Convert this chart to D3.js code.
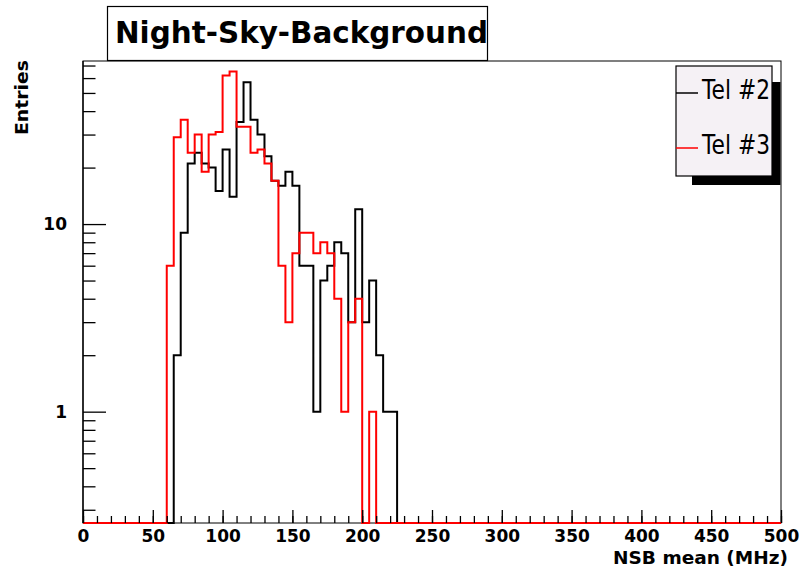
<!DOCTYPE html>
<html>
<head>
<meta charset="utf-8">
<script src="https://cdn.jsdelivr.net/npm/d3@7"></script>
<style>
  body { margin: 0; background: #ffffff; }
  svg text { font-family: "DejaVu Sans", "Liberation Sans", sans-serif; }
</style>
</head>
<body>
<svg id="chart" width="801" height="572"></svg>
<script>
// Histogram bins: lower edge of each 5 MHz bin (MHz)
const binLow = [60, 65, 70, 75, 80, 85, 90, 95, 100, 105,
                110, 115, 120, 125, 130, 135, 140, 145, 150, 155,
                160, 165, 170, 175, 180, 185, 190, 195, 200, 205,
                210, 215, 220];
const binWidth = 5;

// Entries per bin for each telescope
const tel2Counts = [0, 2, 9, 21, 24, 21, 20, 15, 25, 14,
                    35, 57, 36, 30, 23, 17, 16, 19, 16, 6,
                    6, 1, 5, 6, 8, 7, 3, 12, 3, 5,
                    2, 1, 1];
const tel3Counts = [6, 29, 36, 24, 30, 19, 30, 31, 62, 65,
                    33, 33, 24, 25, 21, 17, 6, 3, 7, 9,
                    9, 7, 8, 7, 4, 1, 3, 4, 0, 1,
                    0, 0, 0];

const seriesNames = ["Tel #2", "Tel #3"];
const seriesColors = ["#000000", "#ff0000"];

const xDomain = [0, 500];
const yDomain = [0.255, 74];
const xMajorTicks = [0, 50, 100, 150, 200, 250, 300, 350, 400, 450, 500];
const yMajorTicks = [1, 10];
const yMinorTicks = [0.3, 0.4, 0.5, 0.6, 0.7, 0.8, 0.9,
                     2, 3, 4, 5, 6, 7, 8, 9,
                     20, 30, 40, 50, 60, 70];

const titleText = "Night-Sky-Background";
const xTitle = "NSB mean (MHz)";
const yTitle = "Entries";

// ---- layout ----
const frame = { left: 83, right: 781, top: 61, bottom: 523 };
const svg = d3.select("#chart");

const x = d3.scaleLinear().domain(xDomain).range([frame.left, frame.right]);
const y = d3.scaleLog().domain(yDomain).range([frame.bottom, frame.top]);

// Plot frame
svg.append("rect")
  .attr("x", frame.left).attr("y", frame.top)
  .attr("width", frame.right - frame.left)
  .attr("height", frame.bottom - frame.top)
  .attr("fill", "#ffffff").attr("stroke", "#000").attr("stroke-width", 1);

// Step outline of a histogram over the full axis range
function histPoints(counts) {
  const pts = [[xDomain[0], 0]];
  binLow.forEach((b, i) => pts.push([b, counts[i]]));
  pts.push([binLow[binLow.length - 1] + binWidth, 0]);
  pts.push([xDomain[1], 0]);
  return pts;
}
const stepLine = d3.line()
  .x(d => x(d[0]))
  .y(d => y(Math.max(d[1], yDomain[0])))
  .curve(d3.curveStepAfter);

[tel2Counts, tel3Counts].forEach((counts, i) => {
  svg.append("path")
    .attr("d", stepLine(histPoints(counts)))
    .attr("fill", "none")
    .attr("stroke", seriesColors[i])
    .attr("stroke-width", 2)
    .attr("stroke-linejoin", "miter");
});

// X axis: major + minor ticks pointing into the frame
const xAxisG = svg.append("g").attr("transform", `translate(0,${frame.bottom})`);
xAxisG.append("g")
  .call(d3.axisBottom(x).tickValues(d3.range(0, 501, 10)).tickSize(-7).tickFormat(""))
  .call(g => g.select(".domain").remove());
xAxisG.append("g")
  .call(d3.axisBottom(x).tickValues(xMajorTicks).tickSize(-13).tickPadding(6.5).tickFormat(d3.format("d")))
  .call(g => g.select(".domain").remove())
  .call(g => g.selectAll("text")
    .attr("font-family", "DejaVu Sans").attr("font-weight", "bold")
    .attr("font-size", 17).attr("fill", "#000"));

// Y axis (log)
const yAxisG = svg.append("g").attr("transform", `translate(${frame.left},0)`);
yAxisG.append("g")
  .call(d3.axisLeft(y).tickValues(yMinorTicks).tickSize(-12.5).tickFormat(""))
  .call(g => g.select(".domain").remove());
yAxisG.append("g")
  .call(d3.axisLeft(y).tickValues(yMajorTicks).tickSize(-23).tickPadding(16).tickFormat(d3.format("d")))
  .call(g => g.select(".domain").remove())
  .call(g => g.selectAll("text")
    .attr("font-family", "DejaVu Sans").attr("font-weight", "bold")
    .attr("font-size", 17).attr("fill", "#000"));
svg.selectAll(".tick line").attr("stroke", "#000").attr("stroke-width", 1.3);

// Left axis line on top
svg.append("line")
  .attr("x1", frame.left).attr("x2", frame.left)
  .attr("y1", frame.top).attr("y2", frame.bottom)
  .attr("stroke", "#000").attr("stroke-width", 1.3);

// Axis titles
svg.append("text")
  .attr("x", 788).attr("y", 563.5)
  .attr("text-anchor", "end")
  .attr("font-weight", "bold").attr("font-size", 17)
  .attr("textLength", 175).attr("lengthAdjust", "spacingAndGlyphs")
  .text(xTitle);

svg.append("text")
  .attr("transform", "translate(27.5,60) rotate(-90)")
  .attr("text-anchor", "end")
  .attr("font-weight", "bold").attr("font-size", 17)
  .attr("textLength", 75).attr("lengthAdjust", "spacingAndGlyphs")
  .text(yTitle);

// Title box
svg.append("rect")
  .attr("x", 107.5).attr("y", 6.5).attr("width", 380).attr("height", 54)
  .attr("fill", "#ffffff").attr("stroke", "#000").attr("stroke-width", 1.2);
svg.append("text")
  .attr("x", 115).attr("y", 43)
  .attr("font-weight", "bold").attr("font-size", 30)
  .attr("textLength", 373).attr("lengthAdjust", "spacingAndGlyphs")
  .text(titleText);

// Legend with drop shadow
const legend = { x: 676, y: 66, w: 96, h: 110, shadow: 16 };
svg.append("rect")
  .attr("x", legend.x + legend.shadow).attr("y", legend.y + legend.shadow)
  .attr("width", legend.w - legend.shadow + 8.5)
  .attr("height", legend.h - legend.shadow + 9)
  .attr("fill", "#000");
svg.append("rect")
  .attr("x", legend.x).attr("y", legend.y)
  .attr("width", legend.w).attr("height", legend.h)
  .attr("fill", "#f5f1f5").attr("stroke", "#000").attr("stroke-width", 1.2);

const legendRows = [93, 148];
seriesNames.forEach((name, i) => {
  svg.append("line")
    .attr("x1", legend.x).attr("x2", legend.x + 22)
    .attr("y1", legendRows[i]).attr("y2", legendRows[i])
    .attr("stroke", seriesColors[i]).attr("stroke-width", 1.5);
  svg.append("text")
    .attr("x", legend.x + 26).attr("y", legendRows[i] + 6)
    .attr("font-family", "Liberation Sans").attr("font-size", 26)
    .attr("textLength", 68).attr("lengthAdjust", "spacingAndGlyphs")
    .text(name);
});
</script>
</body>
</html>
